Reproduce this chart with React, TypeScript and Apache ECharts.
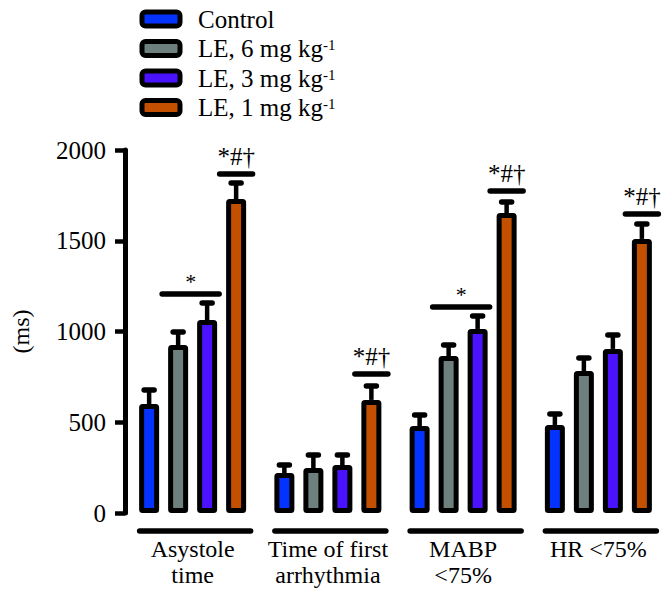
import React, { useEffect, useRef } from "react";
import * as echarts from "echarts";

const categories = ["Asystole\ntime", "Time of first\narrhythmia", "MABP\n<75%", "HR <75%"];
const seriesNames = ["Control", "LE, 6 mg kg-1", "LE, 3 mg kg-1", "LE, 1 mg kg-1"];
const seriesColors = ["#0433ff", "#6e807d", "#4a12ff", "#c25000"];

const controlMeans = [600, 220, 479, 485];
const controlSem = [78, 44, 61, 60];
const le6Means = [925, 248, 865, 782];
const le6Sem = [72, 72, 60, 72];
const le3Means = [1063, 264, 1014, 904];
const le3Sem = [94, 56, 71, 77];
const le1Means = [1730, 623, 1653, 1510];
const le1Sem = [88, 77, 60, 82];

const sigAllValues = [1868, 766, 1774, 1647]; // "*#†" over LE 1 mg/kg
const sigStarValues = [1207, null, 1135, null]; // "*" over LE 6 & 3 mg/kg

const yTicks = [0, 500, 1000, 1500, 2000];

const FONT = "Times New Roman, Liberation Serif, serif";
const BAR_W = 20;
const BAR_GAP = 0.45;
const PITCH = BAR_W * (1 + BAR_GAP);

export default function App() {
  const ref = useRef<HTMLDivElement>(null);
  useEffect(() => {
    document.body.style.margin = "0";
    if (!ref.current) return;
    const chart = echarts.init(ref.current, null, { renderer: "svg" });
    const means = [controlMeans, le6Means, le3Means, le1Means];
    const sems = [controlSem, le6Sem, le3Sem, le1Sem];

    const errData: number[][] = [];
    means.forEach((arr, s) =>
      arr.forEach((m, c) => errData.push([c, s, m, m + sems[s][c]]))
    );
    const sigData: any[] = [];
    sigAllValues.forEach((v, c) => sigData.push([c, v, 0]));
    sigStarValues.forEach((v, c) => {
      if (v != null) sigData.push([c, v, 1]);
    });

    const barSeries = seriesNames.map((name, s) => ({
      type: "bar",
      name,
      data: means[s],
      barWidth: BAR_W,
      barGap: BAR_GAP * 100 + "%",
      z: 3,
      itemStyle: {
        color: seriesColors[s],
        borderColor: "#000",
        borderWidth: 5,
        borderJoin: "round",
        borderRadius: 1,
      },
    }));

    const option: any = {
      animation: false,
      textStyle: { fontFamily: FONT },
      grid: { left: 125, right: 2, top: 150, bottom: 92, containLabel: false },
      legend: {
        orient: "vertical",
        left: 139.5,
        top: 6.5,
        padding: 0,
        itemGap: 4.5,
        itemWidth: 38,
        itemHeight: 14,
        icon: "roundRect",
        selectedMode: false,
        data: seriesNames,
        itemStyle: { borderColor: "#000", borderWidth: 5 },
        formatter: (name: string) => {
          const m = name.match(/^(.*)-1$/);
          return m ? `{t|${m[1]}}{s|-1}` : `{t|${name}}`;
        },
        textStyle: {
          fontFamily: FONT,
          fontSize: 25,
          color: "#000",
          lineHeight: 22,
          padding: [0, 0, 0, 13],
          rich: {
            t: { fontFamily: FONT, fontSize: 25, color: "#000", lineHeight: 22 },
            s: {
              fontFamily: FONT,
              fontSize: 15,
              color: "#000",
              lineHeight: 22,
              verticalAlign: "top",
              padding: [0, 0, 8, 0],
            },
          },
        },
      },
      xAxis: {
        type: "category",
        data: categories,
        axisLine: { show: false },
        axisTick: { show: false },
        axisLabel: {
          fontFamily: FONT,
          fontSize: 24,
          lineHeight: 26,
          color: "#000",
          margin: 23,
          interval: 0,
        },
      },
      yAxis: {
        type: "value",
        min: yTicks[0],
        max: yTicks[yTicks.length - 1],
        interval: yTicks[1] - yTicks[0],
        name: "(ms)",
        nameLocation: "middle",
        nameGap: 92,
        nameRotate: 90,
        nameTextStyle: { fontFamily: FONT, fontSize: 24, color: "#000" },
        axisLine: { show: true, lineStyle: { color: "#000", width: 5 } },
        axisTick: { show: true, length: 10, lineStyle: { color: "#000", width: 4.5 } },
        axisLabel: {
          fontFamily: FONT,
          fontSize: 25,
          color: "#000",
          margin: 19,
          formatter: (v: number) => String(v),
        },
        splitLine: { show: false },
      },
      series: [
        ...barSeries,
        {
          type: "custom",
          name: "err",
          z: 2,
          data: errData,
          encode: { x: 0, y: [2, 3] },
          renderItem: (params: any, api: any) => {
            const c = api.value(0);
            const s = api.value(1);
            const p0 = api.coord([c, api.value(2)]);
            const p1 = api.coord([c, api.value(3)]);
            const x = p0[0] + (s - 1.5) * PITCH;
            return {
              type: "group",
              children: [
                {
                  type: "line",
                  shape: { x1: x, y1: p0[1], x2: x, y2: p1[1] },
                  style: { stroke: "#000", lineWidth: 4.5 },
                },
                {
                  type: "line",
                  shape: { x1: x - 5, y1: p1[1], x2: x + 5, y2: p1[1] },
                  style: { stroke: "#000", lineWidth: 5.5, lineCap: "round" },
                },
              ],
            };
          },
        },
        {
          type: "custom",
          name: "sig",
          z: 4,
          data: sigData,
          encode: { x: 0, y: 1 },
          renderItem: (params: any, api: any) => {
            const c = api.value(0);
            const kind = api.value(2);
            const p = api.coord([c, api.value(1)]);
            let x1, x2, label, fs, dy;
            if (kind === 0) {
              const xc = p[0] + 1.5 * PITCH;
              x1 = xc - 16.5;
              x2 = xc + 16.5;
              label = "*#†";
              fs = 25;
              dy = 5;
            } else {
              x1 = p[0] - 0.5 * PITCH - 16;
              x2 = p[0] + 0.5 * PITCH + 12;
              label = "*";
              fs = 22;
              dy = 1;
            }
            return {
              type: "group",
              children: [
                {
                  type: "line",
                  shape: { x1, y1: p[1], x2, y2: p[1] },
                  style: { stroke: "#000", lineWidth: 5.5, lineCap: "round" },
                },
                {
                  type: "text",
                  x: (x1 + x2) / 2,
                  y: p[1] - dy,
                  style: {
                    text: label,
                    fontFamily: FONT,
                    fontSize: fs,
                    fill: "#000",
                    align: "center",
                    verticalAlign: "bottom",
                  },
                },
              ],
            };
          },
        },
        {
          type: "custom",
          name: "groupLines",
          z: 4,
          data: categories.map((_, c) => [c, 0]),
          encode: { x: 0, y: 1 },
          renderItem: (params: any, api: any) => {
            const p = api.coord([api.value(0), 0]);
            return {
              type: "line",
              shape: { x1: p[0] - 53, y1: p[1] + 18, x2: p[0] + 58, y2: p[1] + 18 },
              style: { stroke: "#000", lineWidth: 5.5, lineCap: "round" },
            };
          },
        },
      ],
    };
    chart.setOption(option);
    return () => chart.dispose();
  }, []);
  return <div ref={ref} style={{ width: 668, height: 605 }} />;
}
